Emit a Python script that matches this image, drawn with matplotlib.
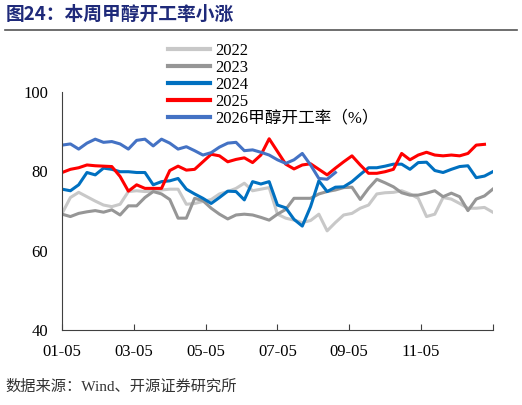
import numpy as np
import matplotlib.pyplot as plt
from matplotlib.lines import Line2D

plt.rcParams['font.family'] = ['Liberation Serif', 'Noto Sans CJK SC']

# weekly methanol operating rate (%), one point per week starting 01-05
y2022 = [69.4, 73.4, 74.7, 73.6, 72.5, 71.5, 71.1, 71.7, 74.9, 75.1, 74.9, 75.0, 75.3, 75.5,
         75.5, 71.7, 71.9, 72.4, 72.9, 74.3, 74.9, 75.7, 77.0, 75.1, 75.5, 75.9, 69.2, 68.2,
         67.7, 67.1, 67.6, 69.2, 65.0, 67.1, 69.0, 69.4, 70.7, 71.5, 74.3, 74.6, 74.7, 75.1,
         74.3, 73.2, 68.6, 69.2, 73.4, 73.0, 71.9, 70.7, 70.7, 70.9, 69.7]
y2023 = [69.2, 68.6, 69.4, 69.8, 70.1, 69.7, 70.3, 69.0, 71.3, 71.3, 73.4, 74.9, 74.3, 72.9,
         68.2, 68.2, 73.2, 72.6, 70.7, 69.2, 68.0, 69.0, 69.2, 69.0, 68.4, 67.7, 69.2, 70.4,
         73.2, 73.2, 73.2, 74.3, 74.9, 75.3, 75.9, 76.0, 72.9, 75.7, 78.0, 77.1, 76.1, 74.6,
         74.0, 74.0, 74.5, 75.1, 73.6, 74.5, 73.6, 70.1, 73.0, 73.8, 75.5]
y2024 = [75.5, 75.1, 76.6, 79.7, 79.1, 80.8, 80.5, 79.9, 79.9, 79.7, 79.7, 76.6, 77.4, 77.6,
         78.2, 75.5, 74.3, 73.2, 71.9, 73.4, 75.0, 74.9, 72.8, 77.4, 76.8, 77.4, 71.5, 70.8,
         67.9, 66.2, 71.1, 77.6, 74.9, 76.0, 76.1, 77.4, 79.2, 80.9, 80.9, 81.3, 81.8, 81.8,
         80.5, 82.2, 82.3, 80.2, 79.7, 80.5, 81.2, 81.4, 78.4, 78.8, 79.9]
y2025 = [79.7, 80.5, 80.9, 81.6, 81.4, 81.3, 81.2, 78.7, 75.0, 76.6, 75.7, 75.7, 75.7, 80.2,
         81.3, 80.3, 80.5, 82.4, 84.3, 83.9, 82.4, 83.0, 83.4, 82.2, 84.1, 88.2, 85.0, 81.8,
         80.6, 81.6, 81.9, 80.5, 79.1, 80.8, 82.4, 83.9, 81.6, 79.5, 79.5, 79.9, 80.5, 84.5,
         82.9, 84.1, 84.8, 84.1, 83.9, 84.1, 83.9, 84.5, 86.6, 86.8]
y2026 = [86.6, 86.9, 85.6, 87.1, 88.1, 87.3, 87.5, 86.9, 85.6, 87.8, 88.1, 86.4, 88.1, 87.1,
         85.6, 86.2, 85.2, 84.1, 84.7, 86.1, 87.1, 87.3, 85.2, 85.4, 84.8, 84.1, 82.9, 82.0,
         82.9, 84.5, 81.6, 78.2, 78.0, 79.7]
tick_labels = ['01-05', '03-05', '05-05', '07-05', '09-05', '11-05']

series = [('2022', y2022, '#C8C8C8'), ('2023', y2023, '#969696'), ('2024', y2024, '#0070C0'),
          ('2025', y2025, '#FF0000'), ('2026甲醇开工率（%）', y2026, '#4472C4')]

fig = plt.figure(figsize=(5.22, 4.05), dpi=100)
ax = fig.add_axes([0.119, 0.185, 0.825, 0.588])

handles = []
for name, vals, col in series:
    ax.plot(np.arange(len(vals)), vals, color=col, lw=2.2)
    handles.append(Line2D([], [], color=col, lw=3))

ax.set_xlim(0, 52)
ax.set_ylim(40, 100)
ax.set_yticks([40, 60, 80, 100])
ax.set_xticks(np.arange(0, 53, 52 / 6))
ax.set_xticklabels(tick_labels + [''])
ax.tick_params(axis='both', labelsize=12, direction='in', length=4, width=0.8, color='#404040')
ax.tick_params(axis='x', pad=10)
ax.tick_params(axis='y', length=0, pad=10)
for s in ['top', 'right']:
    ax.spines[s].set_visible(False)
for s in ['left', 'bottom']:
    ax.spines[s].set_color('#404040')

fig.legend(handles, [s[0] for s in series], loc='upper left', bbox_to_anchor=(0.31, 0.91),
           frameon=False, fontsize=12, handlelength=2.5, handletextpad=0.3,
           labelspacing=0.05, borderaxespad=0)

fig.text(0.01, 0.965, '图24：本周甲醇开工率小涨', fontsize=13.5, fontweight='bold',
         color='#1F2A7A', va='center', family=['Noto Sans CJK SC'])
fig.add_artist(Line2D([0.01, 0.99], [0.925, 0.925], color='#555555', lw=1.2))
fig.text(0.01, 0.045, '数据来源：Wind、开源证券研究所', fontsize=11, color='#333333', va='center')

fig.savefig('out.png', dpi=100)
